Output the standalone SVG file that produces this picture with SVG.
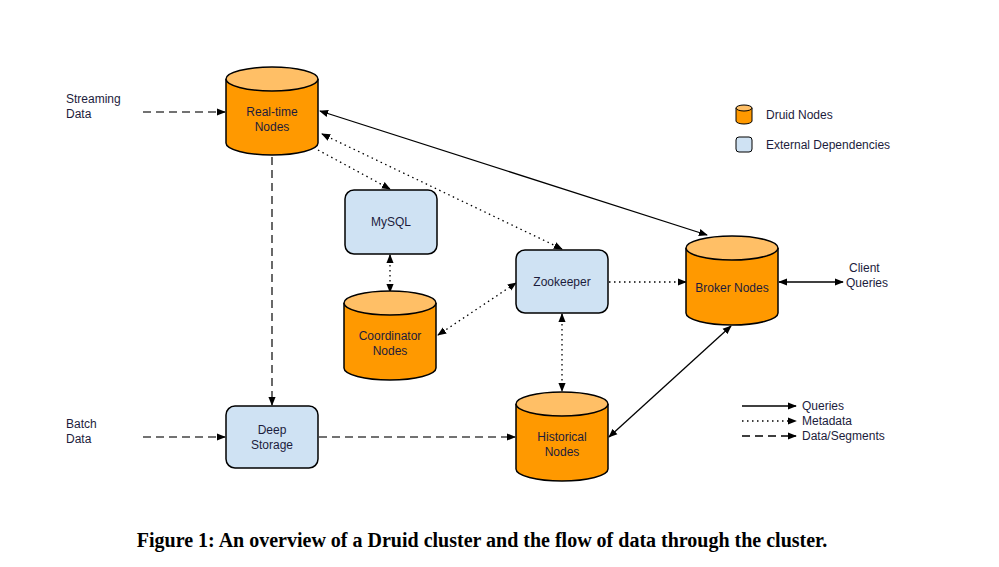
<svg xmlns="http://www.w3.org/2000/svg" width="999" height="567" viewBox="0 0 999 567">
<style>
.t{font-family:"Liberation Sans",Arial,sans-serif;font-size:12px;fill:#1c1c3c}
.c{text-anchor:middle}
.body{fill:#ff9900;stroke:#000;stroke-width:1.5}
.top{fill:#ffbf66;stroke:#000;stroke-width:1.5}
.box{fill:#cfe2f3;stroke:#000;stroke-width:1.5}
.s{stroke:#000;stroke-width:1.3;fill:none}
.dot{stroke-dasharray:1.5 3.5}
.dash{stroke:#444;stroke-width:1.6;stroke-dasharray:8 5}
</style>
<defs>
<marker id="a" viewBox="0 0 10 10" refX="9" refY="5" markerWidth="9" markerHeight="9" markerUnits="userSpaceOnUse" orient="auto-start-reverse"><path d="M0,1 L10,5 L0,9 z" fill="#000"/></marker>
</defs>
<rect width="999" height="567" fill="#fff"/>
<g id="connectors">
<line class="s dash" x1="143" y1="112" x2="225" y2="112" marker-end="url(#a)"/>
<line class="s dash" x1="143" y1="437" x2="225" y2="437" marker-end="url(#a)"/>
<line class="s dash" x1="272" y1="157" x2="272" y2="405" marker-end="url(#a)"/>
<line class="s dash" x1="319" y1="437" x2="515" y2="437" marker-end="url(#a)"/>
<line class="s" x1="320" y1="111" x2="707" y2="235" marker-start="url(#a)" marker-end="url(#a)"/>
<line class="s dot" x1="322" y1="134" x2="562" y2="249" marker-start="url(#a)" marker-end="url(#a)"/>
<line class="s dot" x1="318" y1="150" x2="390" y2="189" marker-end="url(#a)"/>
<line class="s dot" x1="390" y1="255" x2="390" y2="292" marker-start="url(#a)" marker-end="url(#a)"/>
<line class="s dot" x1="438" y1="335" x2="516" y2="283" marker-start="url(#a)" marker-end="url(#a)"/>
<line class="s dot" x1="609" y1="282" x2="686" y2="282" marker-end="url(#a)"/>
<line class="s dot" x1="562" y1="314" x2="562" y2="391" marker-start="url(#a)" marker-end="url(#a)"/>
<line class="s" x1="731" y1="326" x2="609" y2="437" marker-start="url(#a)" marker-end="url(#a)"/>
<line class="s" x1="779" y1="282" x2="843" y2="282" marker-start="url(#a)" marker-end="url(#a)"/>
<line class="s" x1="742" y1="406" x2="796" y2="406" marker-end="url(#a)"/>
<line class="s dot" x1="742" y1="421" x2="796" y2="421" marker-end="url(#a)"/>
<line class="s dash" x1="742" y1="436" x2="796" y2="436" marker-end="url(#a)" style="stroke:#000;stroke-width:1.3"/>
</g>
<g id="realtime">
<path class="body" d="M226,79 V143 A46,12 0 0 0 318,143 V79"/><ellipse class="top" cx="272" cy="79" rx="46" ry="12"/>
<text class="t c" x="272" y="116">Real-time</text><text class="t c" x="272" y="131">Nodes</text>
</g>
<g id="mysql"><rect class="box" x="345" y="190" width="92" height="64" rx="9"/><text class="t c" x="391" y="226">MySQL</text></g>
<g id="coordinator">
<path class="body" d="M344,303 V368 A46,12 0 0 0 436,368 V303"/><ellipse class="top" cx="390" cy="303" rx="46" ry="12"/>
<text class="t c" x="390" y="340">Coordinator</text><text class="t c" x="390" y="355">Nodes</text>
</g>
<g id="zookeeper"><rect class="box" x="516" y="250" width="92" height="63" rx="9"/><text class="t c" x="562" y="286">Zookeeper</text></g>
<g id="broker">
<path class="body" d="M686,248 V313 A46,12 0 0 0 778,313 V248"/><ellipse class="top" cx="732" cy="248" rx="46" ry="12"/>
<text class="t c" x="732" y="292">Broker Nodes</text>
</g>
<g id="historical">
<path class="body" d="M516,404 V469 A46,12 0 0 0 608,469 V404"/><ellipse class="top" cx="562" cy="404" rx="46" ry="12"/>
<text class="t c" x="562" y="441">Historical</text><text class="t c" x="562" y="456">Nodes</text>
</g>
<g id="deepstorage"><rect class="box" x="226" y="406" width="92" height="62" rx="9"/><text class="t c" x="272" y="434">Deep</text><text class="t c" x="272" y="449">Storage</text></g>
<g id="labels">
<text class="t" x="66" y="103">Streaming</text><text class="t" x="66" y="118">Data</text>
<text class="t" x="66" y="428">Batch</text><text class="t" x="66" y="443">Data</text>
<text class="t" x="849" y="272">Client</text><text class="t" x="846" y="287">Queries</text>
<text class="t" x="802" y="410">Queries</text><text class="t" x="802" y="425">Metadata</text><text class="t" x="802" y="440">Data/Segments</text>
</g>
<g id="legend">
<path class="body" d="M736,108 V121 A8,3 0 0 0 752,121 V108" style="stroke-width:1"/><ellipse class="top" cx="744" cy="108" rx="8" ry="3" style="stroke-width:1"/>
<text class="t" x="766" y="119">Druid Nodes</text>
<rect class="box" x="736" y="137" width="16" height="15" rx="3" style="stroke-width:1"/>
<text class="t" x="766" y="149">External Dependencies</text>
</g>
<text x="482" y="547" text-anchor="middle" style="font-family:'Liberation Serif','Times New Roman',serif;font-weight:bold;font-size:20px;fill:#000">Figure 1: An overview of a Druid cluster and the flow of data through the cluster.</text>
</svg>
